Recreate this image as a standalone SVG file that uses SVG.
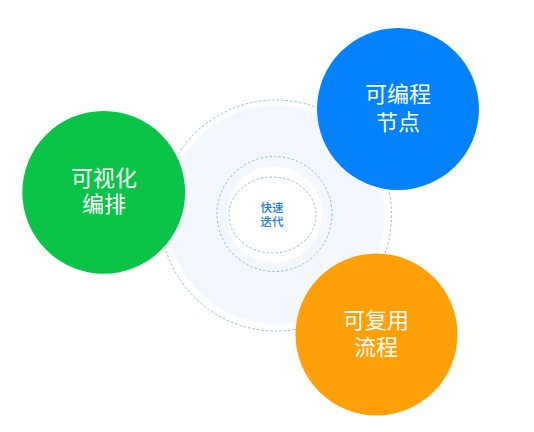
<svg xmlns="http://www.w3.org/2000/svg" width="534" height="432" viewBox="0 0 534 432">
<style>
.dash{fill:none;stroke:#8dbaf3;stroke-width:1;stroke-dasharray:2.5 2}
.big{font-family:"Noto Sans CJK SC","Noto Sans",sans-serif;font-size:22px;fill:#ffffff;text-anchor:middle}
.small{font-family:"Noto Sans CJK SC","Noto Sans",sans-serif;font-size:11.5px;font-weight:500;fill:#1a7be8;text-anchor:middle}
</style>
<rect width="534" height="432" fill="#ffffff"/>
<g id="core">
<circle cx="276" cy="215.5" r="115.5" class="dash"/>
<circle cx="276" cy="214.5" r="109" fill="#f3f8fe"/>
<circle cx="274.5" cy="214" r="57.5" class="dash"/>
<circle cx="274" cy="214.5" r="48" fill="#ffffff"/>
<ellipse cx="272.5" cy="215" rx="43.5" ry="38" class="dash"/>
<text class="small" x="272" y="212"><tspan x="272">快速</tspan><tspan x="272" dy="14">迭代</tspan></text>
</g>
<g id="connectors"></g>
<g id="visual">
<circle cx="103.7" cy="192.3" r="81.4" fill="#0ac448"/>
<text class="big" x="104" y="185.5"><tspan x="104">可视化</tspan><tspan x="104" dy="26.5">编排</tspan></text>
</g>
<g id="programmable">
<circle cx="398" cy="109" r="81" fill="#0382fc"/>
<text class="big" x="398" y="102"><tspan x="398">可编程</tspan><tspan x="398" dy="27.5">节点</tspan></text>
</g>
<g id="reusable">
<circle cx="376.5" cy="334.5" r="81" fill="#fea006"/>
<text class="big" x="376" y="328"><tspan x="376">可复用</tspan><tspan x="376" dy="27">流程</tspan></text>
</g>
</svg>
